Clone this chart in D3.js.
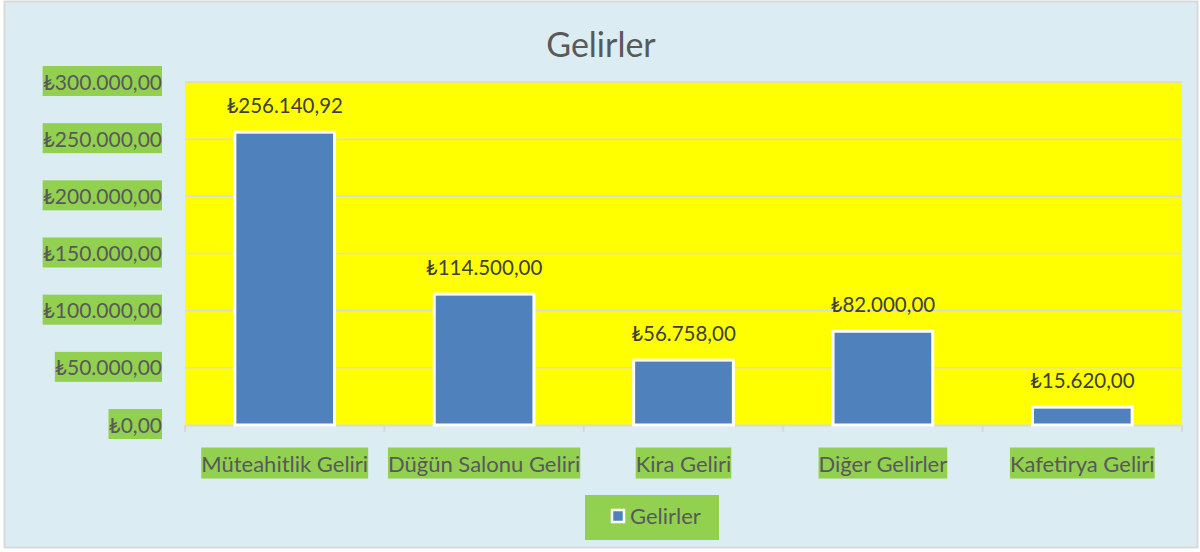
<!DOCTYPE html>
<html>
<head>
  <meta charset="utf-8">
  <title>Gelirler</title>
  <script src="https://d3js.org/d3.v7.min.js"></script>
  <style>
    body,html{
      margin:0;
      padding:0;
      background:#fff;
    }
    svg text{
      font-family: Lato, "Open Sans", sans-serif;
    }
  </style>
</head>
<body>
  <div id="container"></div>
  <script>
    // data
    var categories = ['Müteahitlik Geliri', 'Düğün Salonu Geliri', 'Kira Geliri', 'Diğer Gelirler', 'Kafetirya Geliri'];
    var values = [256140.92, 114500, 56758, 82000, 15620];
    var yTicks = [0, 50000, 100000, 150000, 200000, 250000, 300000];
    var seriesName = 'Gelirler';

    var W = 1200, H = 552;
    var plot = {left:185, right:1182, top:82, bottom:425};

    var trFmt = function(v){
      var s = v.toFixed(2).split('.');
      var int = s[0].replace(/\B(?=(\d{3})+(?!\d))/g, '.');
      return '\u20BA' + int + ',' + s[1];
    };

    var svg = d3.select('#container').append('svg')
      .attr('width', W).attr('height', H);

    // chart background + border
    svg.append('rect')
      .attr('x', 4.5).attr('y', 1.5)
      .attr('width', 1193).attr('height', 546)
      .attr('fill', '#dbedf3')
      .attr('stroke', '#d9d9d9').attr('stroke-width', 2);

    var x = d3.scaleBand().domain(categories).range([plot.left, plot.right]).paddingInner(0.5).paddingOuter(0.25);
    var y = d3.scaleLinear().domain([0, 300000]).range([plot.bottom, plot.top]);

    // plot area
    svg.append('rect')
      .attr('x', plot.left).attr('y', plot.top)
      .attr('width', plot.right - plot.left).attr('height', plot.bottom - plot.top)
      .attr('fill', '#ffff00');

    // gridlines
    svg.append('g').selectAll('line').data(yTicks.slice(1)).enter().append('line')
      .attr('x1', plot.left).attr('x2', plot.right)
      .attr('y1', function(d){ return y(d); }).attr('y2', function(d){ return y(d); })
      .attr('stroke', '#d9d9d9').attr('stroke-width', 1.5);

    // text with green box behind it
    function boxed(g, tx, ty, str, anchor, size, padX, padY){
      var t = g.append('text')
        .attr('x', tx).attr('y', ty)
        .attr('text-anchor', anchor)
        .attr('font-size', size)
        .attr('fill', '#595959')
        .text(str);
      var b = t.node().getBBox();
      g.insert('rect', 'text')
        .attr('x', b.x - padX).attr('y', b.y - padY)
        .attr('width', b.width + padX*2).attr('height', b.height + padY*2)
        .attr('fill', '#92d050');
      return t;
    }

    // y axis labels
    var ya = svg.append('g');
    yTicks.forEach(function(d){
      var g = ya.append('g');
      boxed(g, 162, y(d) + 7.5, trFmt(d), 'end', 21, 0, 2.5);
    });

    // x axis line + ticks
    var xa = svg.append('g')
      .attr('transform', 'translate(0,' + plot.bottom + ')')
      .call(d3.axisBottom(x).tickSize(0).tickFormat(''));
    xa.select('.domain').attr('stroke', '#d9d9d9').attr('stroke-width', 2);
    var step = x.step();
    var bounds = d3.range(categories.length + 1).map(function(i){ return plot.left + i*step; });
    xa.selectAll('.tk').data(bounds).enter().append('line')
      .attr('class', 'tk')
      .attr('x1', function(d){ return d; }).attr('x2', function(d){ return d; })
      .attr('y1', 0).attr('y2', 7)
      .attr('stroke', '#d9d9d9').attr('stroke-width', 2);

    // category labels
    var cl = svg.append('g');
    categories.forEach(function(c){
      var g = cl.append('g');
      boxed(g, x(c) + x.bandwidth()/2, 471.5, c, 'middle', 22, 0, 2);
    });

    // bars
    svg.append('g').selectAll('rect').data(values).enter().append('rect')
      .attr('x', function(d,i){ return x(categories[i]); })
      .attr('y', function(d){ return y(d); })
      .attr('width', x.bandwidth())
      .attr('height', function(d){ return y(0) - y(d); })
      .attr('fill', '#4f81bd')
      .attr('stroke', '#fff').attr('stroke-width', 3);

    // data labels
    svg.append('g').selectAll('text').data(values).enter().append('text')
      .attr('x', function(d,i){ return x(categories[i]) + x.bandwidth()/2; })
      .attr('y', function(d){ return y(d) - 19; })
      .attr('text-anchor', 'middle')
      .attr('font-size', 20.5)
      .attr('fill', '#404040')
      .text(function(d){ return trFmt(d); });

    // title
    svg.append('text')
      .attr('x', 601).attr('y', 57)
      .attr('text-anchor', 'middle')
      .attr('font-size', 34)
      .attr('fill', '#595959')
      .text(seriesName);

    // legend
    var lg = svg.append('g');
    lg.append('rect')
      .attr('x', 585).attr('y', 495).attr('width', 134).attr('height', 45)
      .attr('fill', '#92d050');
    lg.append('rect')
      .attr('x', 612).attr('y', 510).attr('width', 12).attr('height', 12)
      .attr('fill', '#4f81bd').attr('stroke', '#fff').attr('stroke-width', 2.5);
    lg.append('text')
      .attr('x', 630).attr('y', 524)
      .attr('font-size', 22)
      .attr('fill', '#595959')
      .text(seriesName);
  </script>
</body>
</html>
